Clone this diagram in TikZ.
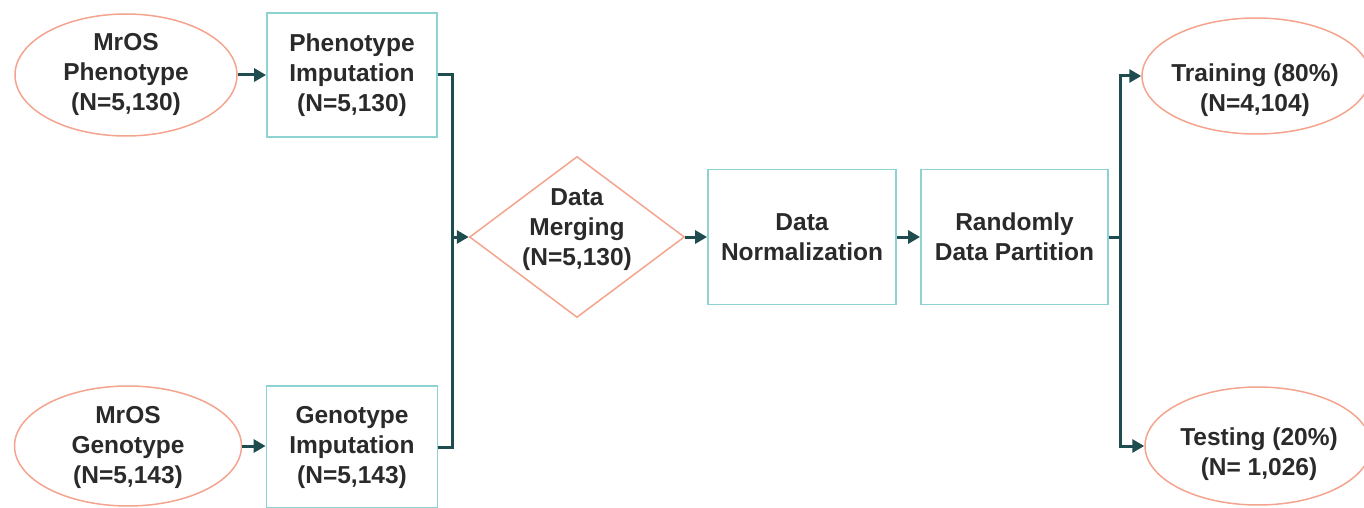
\documentclass[tikz,border=0pt]{standalone}
\usepackage{fontspec}
\setmainfont{Liberation Sans}
\usetikzlibrary{shapes.geometric,arrows.meta}
\definecolor{salmon}{HTML}{F4A48E}
\definecolor{tealb}{HTML}{8ED2D2}
\definecolor{arr}{HTML}{1F4C4F}
\definecolor{txt}{HTML}{2A2A2A}
\begin{document}
\begin{tikzpicture}[x=1pt,y=-1pt,
  oval/.style={ellipse, draw=salmon, line width=1.5pt, inner sep=0pt},
  box/.style={rectangle, draw=tealb, line width=1.8pt, inner sep=0pt},
  diam/.style={diamond, draw=salmon, line width=1.5pt, inner sep=0pt},
  lbl/.style={font=\fontsize{24.5}{30}\selectfont\bfseries, text=txt, align=center, inner sep=0pt},
  conn/.style={draw=arr, line width=3pt},
  arrow/.style={conn, -{Triangle[length=12pt,width=13pt]}}]
\useasboundingbox (0,0) rectangle (1364,508);

% shapes
\node[oval, minimum width=222pt, minimum height=122pt] (mrosP) at (126,75) {};
\node[oval, minimum width=227pt, minimum height=120pt] (mrosG) at (128,446) {};
\node[box, minimum width=170pt, minimum height=124pt] (pimp) at (352,75) {};
\node[box, minimum width=171pt, minimum height=122pt] (gimp) at (352,447) {};
\node[diam, minimum width=215pt, minimum height=161pt] (merge) at (577,237) {};
\node[box, minimum width=188pt, minimum height=135pt] (norm) at (802,237) {};
\node[box, minimum width=187pt, minimum height=135pt] (part) at (1014.5,237) {};
\node[oval, minimum width=228pt, minimum height=116pt] (train) at (1256,76) {};
\node[oval, minimum width=226pt, minimum height=118pt] (test) at (1258,446) {};

% texts
\node[lbl] (mrosPt) at (126,74) {MrOS\\Phenotype\\(N=5,130)};
\node[lbl] (mrosGt) at (128,447) {MrOS\\Genotype\\(N=5,143)};
\node[lbl] (pimpt) at (352,75) {Phenotype\\Imputation\\(N=5,130)};
\node[lbl] (gimpt) at (352,447) {Genotype\\Imputation\\(N=5,143)};
\node[lbl] (merget) at (577,230) {Data\\Merging\\(N=5,130)};
\node[lbl] (normt) at (802,237) {Data\\Normalization};
\node[lbl] (partt) at (1014.5,237) {Randomly\\Data Partition};
\node[lbl] (traint) at (1255,90) {Training (80\%)\\(N=4,104)};
\node[lbl] (testt) at (1259,454) {Testing (20\%)\\(N= 1,026)};

% connectors
\coordinate (jm) at (452,237);
\coordinate (js) at (1120,237);
\draw[arrow] (mrosP.east) -- (pimp.west);
\draw[arrow] (mrosG.east) -- (mrosG.east -| gimp.west);
\draw[conn] (pimp.east) -| (jm) |- (gimp.east);
\draw[arrow] (jm) -- (merge.west);
\draw[arrow] (merge.east) -- (norm.west);
\draw[arrow] (norm.east) -- (part.west);
\draw[conn] (part.east) -- (js);
\draw[arrow] (js) |- (train.west);
\draw[arrow] (js) |- (test.west);
\end{tikzpicture}
\end{document}
